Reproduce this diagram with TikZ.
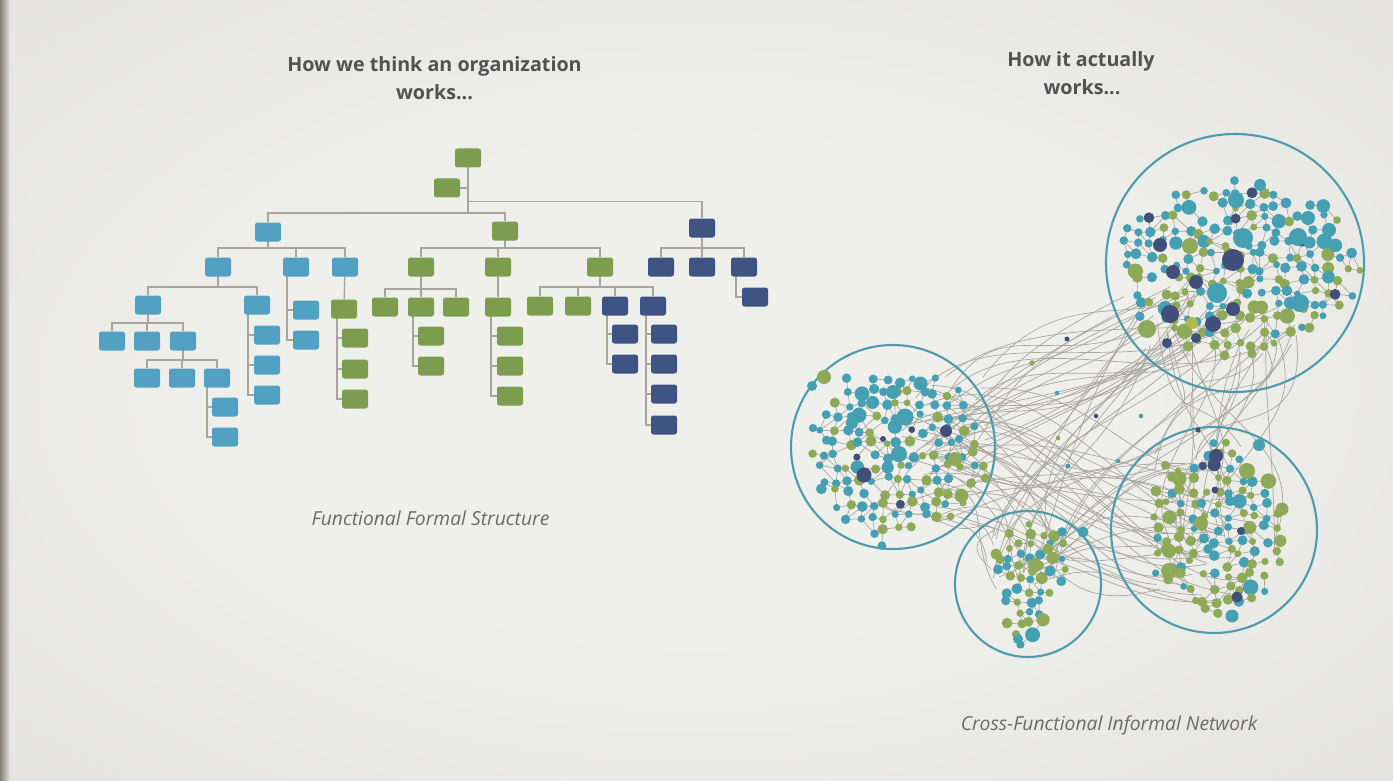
\documentclass[tikz,border=0pt]{standalone}
\usepackage{fontspec}
\setmainfont{Open Sans}
\usetikzlibrary{backgrounds}
\definecolor{vin}{HTML}{EFEFEC}
\definecolor{vout}{HTML}{D0CEC8}
\definecolor{edgec}{HTML}{85827C}
\definecolor{tb}{HTML}{52A1C2}
\definecolor{tg}{HTML}{7C9D4E}
\definecolor{tn}{HTML}{3E5583}
\definecolor{lnc}{HTML}{A9A59D}
\definecolor{dg}{HTML}{8EAA58}
\definecolor{dt}{HTML}{45A0B4}
\definecolor{dn}{HTML}{414F7A}
\definecolor{dy}{HTML}{B2B94C}
\definecolor{ringc}{HTML}{4E9CAB}
\definecolor{wirec}{HTML}{A9A69F}
\definecolor{lnkc}{HTML}{A5A39B}
\definecolor{ttl}{HTML}{525255}
\definecolor{capc}{HTML}{6B6B6B}
\pgfdeclareradialshading{vign}{\pgfpointorigin}{color(0bp)=(vin); color(16bp)=(vin); color(72bp)=(vout)}

\newcommand\busto[3]{\foreach \cn in {#3}{\draw[ln] (#1.center) |- ([yshift=#2pt]\cn.north) -- (\cn.north);}}
\newcommand\sideto[3]{\foreach \cn in {#3}{\draw[ln] (\cn.west) -- ++(-#2,0) |- (#1.center);}}
\newcommand\setcl[9]{\def\ccx{#1}\def\ccy{#2}\def\csp{#3}\def\crx{#4}\def\cry{#5}\def\cta{#6}\def\ctb{#7}\def\csk{#8}\def\csd{#9}}
\def\rpoint#1/#2/#3/#4\relax#5{\pgfmathsetmacro\rX{#1+#2*hsh(\k,#5,21)}\pgfmathsetmacro\rY{#3+#4*hsh(\k,#5+1,21)}}
\newcommand\wiregroup[6]{%
 \foreach \k in {1,...,#1}{%
  \def\csd{#2}%
  \rpoint#3\relax{1}\let\sx\rX\let\sy\rY
  \rpoint#4\relax{3}\let\ex\rX\let\ey\rY
  \rpoint#5\relax{5}\pgfmathsetmacro\pa{\sx+\rX}\pgfmathsetmacro\pb{\sy+\rY}%
  \rpoint#6\relax{7}\pgfmathsetmacro\pc{\ex+\rX}\pgfmathsetmacro\pd{\ey+\rY}%
  \draw[wire] (\sx,\sy) .. controls (\pa,\pb) and (\pc,\pd) .. (\ex,\ey);
 }}
\newcommand\cledges[2]{%
 \foreach \i in {-#1,...,#1}{\foreach \j in {-#2,...,#2}{%
  \pgfmathtruncatemacro\ok{inc(\i,\j)}%
  \ifnum\ok=1
   \pgfmathsetmacro\xa{px(\i,\j)}\pgfmathsetmacro\ya{py(\i,\j)}%
   \pgfmathtruncatemacro\ok{(hsh(\i,\j,5)<0.78)&&inc(\i+1,\j)}%
   \ifnum\ok=1 \pgfmathsetmacro\xb{px(\i+1,\j)}\pgfmathsetmacro\yb{py(\i+1,\j)}\draw[lnk] (\xa,\ya)--(\xb,\yb);\fi
   \pgfmathtruncatemacro\ok{(hsh(\i,\j,6)<0.78)&&inc(\i,\j+1)}%
   \ifnum\ok=1 \pgfmathsetmacro\xb{px(\i,\j+1)}\pgfmathsetmacro\yb{py(\i,\j+1)}\draw[lnk] (\xa,\ya)--(\xb,\yb);\fi
   \pgfmathtruncatemacro\ok{(hsh(\i,\j,7)<0.3)&&inc(\i+1,\j+1)}%
   \ifnum\ok=1 \pgfmathsetmacro\xb{px(\i+1,\j+1)}\pgfmathsetmacro\yb{py(\i+1,\j+1)}\draw[lnk] (\xa,\ya)--(\xb,\yb);\fi
   \pgfmathtruncatemacro\ok{(hsh(\i,\j,11)<0.25)&&inc(\i-1,\j+1)}%
   \ifnum\ok=1 \pgfmathsetmacro\xb{px(\i-1,\j+1)}\pgfmathsetmacro\yb{py(\i-1,\j+1)}\draw[lnk] (\xa,\ya)--(\xb,\yb);\fi
  \fi}}}
% #1 nx, #2 ny, #3 base green prob, #4 green gradient along x, #5 along y
\newcommand\cldots[5]{%
 \foreach \i in {-#1,...,#1}{\foreach \j in {-#2,...,#2}{%
  \pgfmathtruncatemacro\ok{inc(\i,\j)}%
  \ifnum\ok=1
   \pgfmathsetmacro\xa{px(\i,\j)}\pgfmathsetmacro\ya{py(\i,\j)}%
   \pgfmathsetmacro\rr{3.3+2.2*hsh(\i,\j,8)+2.4*(hsh(\i,\j,9)>0.92)}%
   \pgfmathsetmacro\gp{#3+#4*\i/#1+#5*\j/#2}%
   \pgfmathtruncatemacro\kc{hsh(\i,\j,10)<\gp ? 1 : (hsh(\i,\j,12)>0.965 ? 3 : 2)}%
   \ifcase\kc\or\fill[dg] (\xa,\ya) circle[radius=\rr];\or\fill[dt] (\xa,\ya) circle[radius=\rr];\or\fill[dn] (\xa,\ya) circle[radius=\rr];\fi
  \fi}}}

\begin{document}
\begin{tikzpicture}[x=1pt,y=-1pt,
 box/.style={rounded corners=2.5pt, minimum width=26pt, minimum height=19pt, inner sep=0pt},
 B/.style={box, fill=tb}, G/.style={box, fill=tg}, N/.style={box, fill=tn},
 ln/.style={draw=lnc, line width=1.4pt},
 wire/.style={draw=wirec, line width=0.7pt},
 lnk/.style={draw=lnkc, line width=0.6pt},
 ringst/.style={draw=ringc, line width=2.1pt},
 ttlf/.style={text=ttl, font=\fontsize{19.7}{22}\selectfont\bfseries, inner sep=0pt, anchor=base},
 capf/.style={text=capc, font=\fontsize{19.3}{22}\selectfont\itshape, inner sep=0pt, anchor=base},
 declare function={
  hsh(\a,\b,\c)=frac(abs(sin(\a*127.1+\b*311.7+\c*74.7+\csd*53.9+13.3)*437.5453));
  ux(\a,\b)=(\a+\csk*\b)*\csp/(\crx*(\cta-\ctb*\b*\csp));
  vy(\b)=\b*\csp/\cry;
  inc(\a,\b)=((hsh(\a,\b,1)>0.06)&&((ux(\a,\b)*ux(\a,\b)+vy(\b)*vy(\b))<(0.76+0.3*hsh(\a,\b,4))));
  px(\a,\b)=\ccx+\a*\csp+(hsh(\a,\b,2)-0.5)*\csp*0.6;
  py(\a,\b)=\ccy+\b*\csp+(hsh(\a,\b,3)-0.5)*\csp*0.6;
 }]
\useasboundingbox (0,0) rectangle (1393,781);

% ---------- tree nodes ----------
\node[G] (r) at (468,158) {};
\node[G] (as) at (447,188) {};
\node[B] (b1) at (268,232) {};
\node[G] (g1) at (505,231) {};
\node[N] (n1) at (702,228) {};
% blue branch
\node[B] (b2a) at (218,267) {};
\node[B] (b2b) at (296,267) {};
\node[B] (b2c) at (345,267) {};
\node[B] (b3a) at (148,305) {};
\node[B] (b3b) at (257,305) {};
\node[B] (b4a) at (112,341) {};
\node[B] (b4b) at (147,341) {};
\node[B] (b4c) at (183,341) {};
\node[B] (b5a) at (147,378) {};
\node[B] (b5b) at (182,378) {};
\node[B] (b5c) at (217,378) {};
\node[B] (b6a) at (225,407) {};
\node[B] (b6b) at (225,437) {};
\node[B] (b4d) at (267,335) {};
\node[B] (b4e) at (267,365) {};
\node[B] (b4f) at (267,395) {};
\node[B] (b3c) at (306,310) {};
\node[B] (b3d) at (306,340) {};
\node[G] (gx) at (344,309) {};
\node[G] (gx1) at (355,338) {};
\node[G] (gx2) at (355,369) {};
\node[G] (gx3) at (355,399) {};
% green branch
\node[G] (g2a) at (421,267) {};
\node[G] (g2b) at (498,267) {};
\node[G] (g2c) at (600,267) {};
\node[G] (g3a) at (385,307) {};
\node[G] (g3b) at (421,307) {};
\node[G] (g3c) at (456,307) {};
\node[G] (g4a) at (431,336) {};
\node[G] (g4b) at (431,366) {};
\node[G] (g3d) at (498,307) {};
\node[G] (g4c) at (510,336) {};
\node[G] (g4d) at (510,366) {};
\node[G] (g4e) at (510,396) {};
\node[G] (g3e) at (540,306) {};
\node[G] (g3f) at (578,306) {};
\node[N] (n3a) at (615,306) {};
\node[N] (n3b) at (653,306) {};
\node[N] (n4a) at (625,334) {};
\node[N] (n4b) at (625,364) {};
\node[N] (n4c) at (664,334) {};
\node[N] (n4d) at (664,364) {};
\node[N] (n4e) at (664,394) {};
\node[N] (n4f) at (664,425) {};
% navy branch
\node[N] (n2a) at (661,267) {};
\node[N] (n2b) at (702,267) {};
\node[N] (n2c) at (744,267) {};
\node[N] (n3c) at (755,297) {};

\begin{pgfonlayer}{background}
\shade[shading=vign] (0,0) rectangle (1393,781);
\shade[left color=edgec, right color=vout!70!vin] (0,0) rectangle (9,781);
% tree connectors
\draw[ln] (as.east) -- (as.east -| r.center);
\draw[ln] (r.center) |- ([yshift=9.5pt]b1.north) -- (b1.north);
\draw[ln] (r.center) |- ([yshift=8.5pt]g1.north) -- (g1.north);
\draw[ln] (r.center) |- ([yshift=16.5pt]n1.north) -- (n1.north);
\busto{b1}{9.5}{b2a,b2b,b2c}
\busto{b2a}{8.5}{b3a,b3b}
\busto{b3a}{8.5}{b4a,b4b,b4c}
\busto{b4c}{8.5}{b5a,b5b,b5c}
\sideto{b5c}{5}{b6a,b6b}
\sideto{b3b}{6}{b4d,b4e,b4f}
\sideto{b2b}{6}{b3c,b3d}
\draw[ln] (b2c) -- (gx);
\sideto{gx}{5}{gx1,gx2,gx3}
\busto{g1}{9.5}{g2a,g2b,g2c}
\busto{g2a}{8.5}{g3a,g3b,g3c}
\sideto{g3b}{5}{g4a,g4b}
\draw[ln] (g2b) -- (g3d);
\sideto{g3d}{6}{g4c,g4d,g4e}
\busto{g2c}{9.5}{g3e,g3f,n3a,n3b}
\sideto{n3a}{5}{n4a,n4b}
\sideto{n3b}{5}{n4c,n4d,n4e,n4f}
\busto{n1}{9.5}{n2a,n2b,n2c}
\sideto{n2c}{6}{n3c}
\end{pgfonlayer}

% ---------- titles ----------
\node[ttlf] (t1a) at (434.5,72) {How we think an organization};
\node[ttlf] (t1b) at (434.5,100) {works...};
\node[ttlf] (t2a) at (1081,67) {How it actually};
\node[ttlf] (t2b) at (1082,95) {works...};
\node[capf] (c1) at (430.5,525) {Functional Formal Structure};
\node[capf] (c2) at (1109,730) {Cross-Functional Informal Network};

% ---------- network: wires between clusters ----------
\wiregroup{24}{7}{900/85/375/100}{1120/180/285/70}{30/80/-100/80}{-180/140/40/60}
\wiregroup{26}{8}{900/85/385/140}{1150/110/440/160}{60/80/-60/110}{-160/90/-60/110}
\wiregroup{18}{9}{1145/160/310/45}{1150/130/440/130}{-50/100/50/70}{-50/100/-130/70}
\wiregroup{13}{10}{990/85/532/50}{1135/170/290/60}{-20/70/-130/60}{-100/80/60/70}
\wiregroup{9}{11}{870/105/430/100}{985/85/540/50}{40/50/0/50}{-50/50/-80/40}
\wiregroup{10}{12}{995/85/535/50}{1155/80/455/150}{30/60/-60/60}{-110/60/-40/60}

% cluster links
\setcl{1238}{268}{12.5}{124}{90}{1}{0}{0}{1}\cledges{10}{7}
\setcl{898}{455}{12.5}{92}{88}{1}{0}{0}{2}\cledges{7}{7}
\setcl{1217}{528}{12}{70}{94}{1}{0}{0}{3}\cledges{6}{8}
\setcl{1030}{590}{11}{55}{72}{0.6}{0.007}{0.15}{4}\cledges{5}{6}

% rings
\draw[ringst] (1235,263) circle[radius=129];
\draw[ringst] (893,447) circle[radius=102];
\draw[ringst] (1028,584) circle[radius=73];
\draw[ringst] (1214,530) circle[radius=103];

% cluster dots
\setcl{1238}{268}{12.5}{124}{90}{1}{0}{0}{1}\cldots{10}{7}{0.42}{-0.12}{0.35}
\setcl{898}{455}{12.5}{92}{88}{1}{0}{0}{2}\cldots{7}{7}{0.4}{0.25}{0.2}
\setcl{1217}{528}{12}{70}{94}{1}{0}{0}{3}\cldots{6}{8}{0.62}{-0.1}{0.05}
\setcl{1030}{590}{11}{55}{72}{0.6}{0.007}{0.15}{4}\cldots{5}{6}{0.6}{0}{0}

% prominent dots
\foreach \x/\y/\rd/\cl in {
 1233/260/11/dn, 1243/238/10/dt, 1217/293/10/dt, 1300/303/9/dt, 1298/237/9/dt,
 1170/314/9/dn, 1213/324/8/dn, 1160/245/7/dn, 1173/272/7/dn, 1196/282/7/dn,
 1233/309/7/dn, 1147/329/9/dg, 1192/323/6/dy, 1236/200/8/dt, 1329/230/7/dt,
 1190/246/8/dg, 1167/343/5/dn, 1196/338/5/dn, 1308/218/7/dt, 1260/185/6/dt,
 864/475/7.5/dn, 946/431/6/dn, 883/439/3/dn, 905/417/8.5/dt, 899/454/8/dt,
 893/392/7/dt, 824/377/7/dg, 955/459/7/dg, 812/386/5/dt, 852/423/6/dt,
 1216/456/7/dn, 1247/471/8/dg, 1259/445/6/dt, 1237/597/5.5/dn, 1232/616/6.5/dt,
 1169/571/8/dg, 1169/551/7/dg, 1201/523/7/dg, 1282/509/6.5/dg, 1215/490/3.5/dn, 1241/531/4/dn,
 1035/565/7/dg, 1083/532/5.5/dt, 996/554/5.5/dg, 1048/549/5.5/dg, 1018/639/5/dt,
 1067/339/2.5/dn, 1032/363/2.8/dg, 1057/393/2.3/dt, 1096/416/2.3/dn, 1141/416/2.3/dt,
 1058/438/2.3/dg, 1068/466/2.5/dt, 1118/461/2.3/dt, 1198/430/2.5/dn}
 {\fill[fill=\cl] (\x,\y) circle[radius=\rd];}
\end{tikzpicture}
\end{document}
